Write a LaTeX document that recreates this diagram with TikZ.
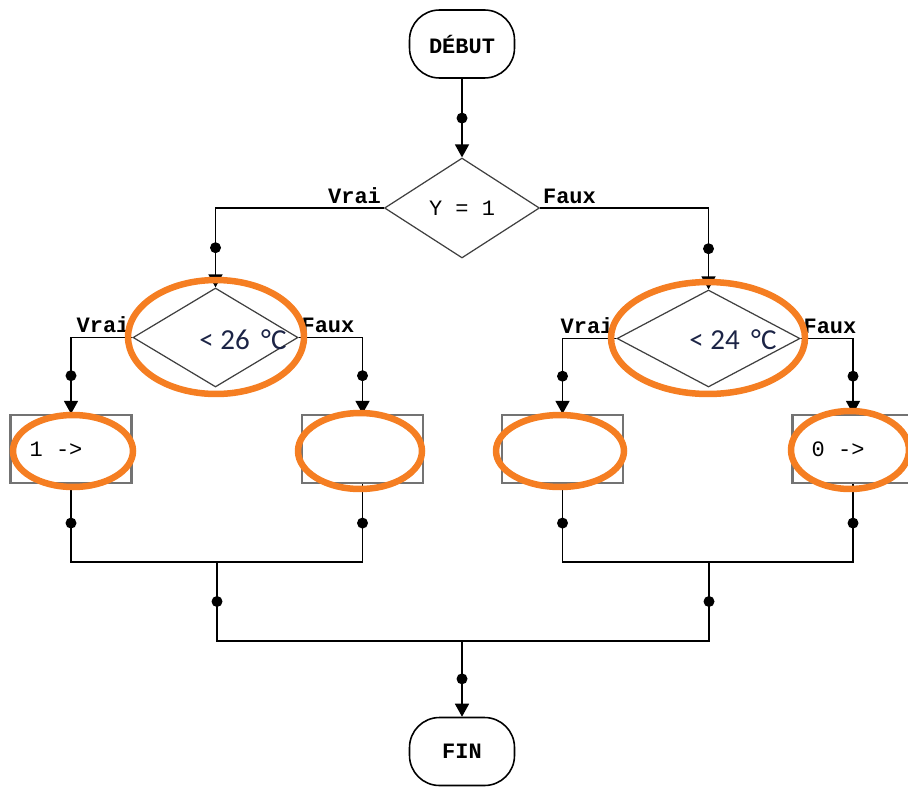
\documentclass[tikz,border=0pt]{standalone}
\usepackage{fontspec}
\setmonofont{Liberation Mono}
\newfontfamily\calibfont{Carlito}
\usepackage{tikz}
\usetikzlibrary{arrows.meta,shapes.geometric}
\definecolor{ringorange}{RGB}{245,126,34}
\definecolor{navytext}{RGB}{28,36,70}

\begin{document}
\begin{tikzpicture}[x=0.02cm, y=-0.02cm,
  every node/.style={font=\ttfamily\fontsize{12.5}{14}\selectfont},
  term/.style={draw, line width=0.9pt, rounded corners=0.6cm, minimum width=2.1cm, minimum height=1.36cm, font=\ttfamily\bfseries\fontsize{12.5}{14}\selectfont},
  test/.style={draw=black!75, line width=0.7pt, diamond, inner sep=0pt},
  act/.style={draw=black!55, line width=1.3pt, minimum width=2.42cm, minimum height=1.36cm},
  dot/.style={circle, fill=black, inner sep=0pt, minimum size=0.22cm},
  lab/.style={inner sep=1.5pt, yshift=1pt, font=\ttfamily\bfseries\fontsize{12.5}{14}\selectfont},
  cond/.style={font=\calibfont\fontsize{16.5}{18}\selectfont, text=navytext},
  flow/.style={line width=0.9pt, -{Triangle[width=0.28cm,length=0.26cm]}},
  merge/.style={line width=0.9pt},
  ring/.style={draw=ringorange, line width=3.7pt}
]
\useasboundingbox (0,0) rectangle (908,787);

% debut et premier test
\node[term] (debut) at (462,44) {DÉBUT};
\node[test, minimum width=3.1cm, minimum height=2cm] (y1) at (462,208) {Y = 1};

% tests de temperature
\node[test, minimum width=3.3cm, minimum height=1.98cm] (c26) at (215.5,337.5) {};
\node[test, minimum width=3.66cm, minimum height=1.94cm] (c24) at (708.5,338.5) {};
\node[cond] (t26) at (243,340) {< 26 \,°C};
\node[cond] (t24) at (733,340) {< 24 \,°C};

% actions
\foreach \n/\x in {b1/71,b2/362.5,b3/562.5,b4/853}
  \node[act] (\n) at (\x,449) {};
\node[anchor=west, inner sep=0pt] (v1) at ([xshift=0.4cm]b1.west) {1 ->};
\node[anchor=west, inner sep=0pt] (v0) at ([xshift=0.4cm]b4.west) {0 ->};

\node[term] (fin) at (462,751.5) {FIN};

% etiquettes des branches
\foreach \d in {y1,c26,c24} {
  \node[lab, anchor=south east] (\d-v) at (\d.west) {Vrai};
  \node[lab, anchor=south west] (\d-f) at (\d.east) {Faux};
}

% liaisons
\draw[flow] (debut) -- node[dot] {} (y1);
\draw[flow] (y1.west) -| node[dot, pos=0.75] {} (c26.north);
\draw[flow] (y1.east) -| node[dot, pos=0.75] {} (c24.north);
\foreach \d/\l/\r in {c26/b1/b2,c24/b3/b4} {
  \draw[flow] (\d.west) -| node[dot, pos=0.75] {} (\l.north);
  \draw[flow] (\d.east) -| node[dot, pos=0.75] {} (\r.north);
}

\coordinate (j1) at (217,562);
\coordinate (j2) at (709,562);
\coordinate (j3) at (462,641);
\foreach \b/\j in {b1/j1,b2/j1,b3/j2,b4/j2}
  \draw[merge] (\b.south) |- node[dot, pos=0.25] {} (\j);
\foreach \j in {j1,j2}
  \draw[merge] (\j) |- node[dot, pos=0.25] {} (j3);
\draw[flow] (j3) -- node[dot] {} (fin);

% cercles orange
\foreach \x/\y/\rx/\ry in {216/337/1.76/1.14,73/451/1.2/0.72,360/451/1.24/0.76,708/338/1.94/1.12,560/451/1.28/0.72,850/450/1.18/0.78}
  \draw[ring] (\x,\y) ellipse [x radius=\rx cm, y radius=\ry cm];
\end{tikzpicture}
\end{document}
